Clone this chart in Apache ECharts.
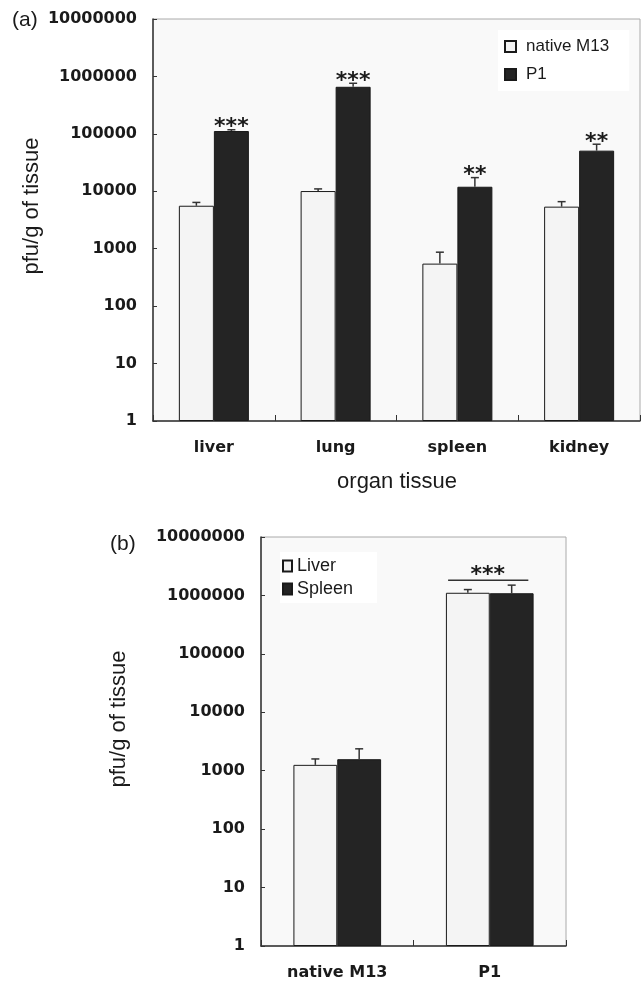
<!DOCTYPE html>
<html>
<head>
<meta charset="utf-8">
<script src="https://cdn.jsdelivr.net/npm/echarts@6/dist/echarts.min.js"></script>
<style>
  html, body { margin: 0; padding: 0; background: #fff; }
  #chart { width: 643px; height: 981px; }
</style>
</head>
<body>
<div id="chart"></div>
<script>
// panel (a): phage recovered per organ
const categoriesA = ['liver', 'lung', 'spleen', 'kidney'];
const nativeA = [5600, 10100, 550, 5400];
const nativeErrA = [6400, 11000, 870, 6600];
const p1A = [112000, 660000, 12000, 51000];
const p1ErrA = [118000, 760000, 17300, 66000];
const sigA = ['***', '***', '**', '**'];

// panel (b): liver vs spleen
const categoriesB = ['native M13', 'P1'];
const liverB = [1260, 1110000];
const liverErrB = [1590, 1260000];
const spleenB = [1575, 1090000];
const spleenErrB = [2370, 1500000];
const sigB = ['', '***'];

const TEXT = '#1a1a1a';
const DARK = '#242424';
const LIGHT = '#f4f4f4';
const CAT_GAP = 0.425;
const STAR_FONT = 'bold 22px "DejaVu Sans"';

const chart = echarts.init(document.getElementById('chart'));

const tickFont = { fontFamily: 'DejaVu Sans', fontWeight: 'bold', fontSize: 16, color: TEXT };

const logAxis = (gridIndex) => ({
  type: 'log',
  gridIndex,
  min: 1,
  max: 10000000,
  logBase: 10,
  splitNumber: 7,
  axisLine: { show: true, lineStyle: { color: '#333', width: 1.5 } },
  axisTick: { show: true, inside: true, length: 4, lineStyle: { color: '#333' } },
  axisLabel: { ...tickFont, margin: 16, formatter: (v) => String(Math.round(v)) },
  splitLine: { show: false },
  minorTick: { show: false }
});

const catAxis = (gridIndex, data) => ({
  type: 'category',
  gridIndex,
  data,
  axisLine: { show: true, lineStyle: { color: '#333', width: 1.5 } },
  axisTick: { show: true, inside: true, length: 6, lineStyle: { color: '#333' } },
  axisLabel: { ...tickFont, margin: 19 },
  splitLine: { show: false }
});

// error bar (upper only), plus optional significance stars
const errSeries = (xi, means, errs, side, stars) => ({
  type: 'custom',
  xAxisIndex: xi,
  yAxisIndex: xi,
  z: 5,
  data: means.map((m, i) => [i, m, errs[i], stars ? stars[i] : '']),
  renderItem: (params, api) => {
    const idx = api.value(0);
    const base = api.coord([idx, api.value(1)]);
    const top = api.coord([idx, api.value(2)]);
    const band = api.size([1, 1])[0];
    const barW = band * (1 - CAT_GAP) / 2;
    const x = base[0] + side * barW / 2;
    const children = [
      { type: 'line', shape: { x1: x, y1: base[1], x2: x, y2: top[1] }, style: { stroke: '#333', lineWidth: 1.5 } },
      { type: 'line', shape: { x1: x - 4, y1: top[1], x2: x + 4, y2: top[1] }, style: { stroke: '#333', lineWidth: 1.5 } }
    ];
    const s = api.value(3);
    if (s) {
      children.push({
        type: 'text',
        x: x,
        y: top[1] - 2,
        style: { text: s, fill: TEXT, font: STAR_FONT, align: 'center', verticalAlign: 'middle' }
      });
    }
    return { type: 'group', children };
  }
});

// bracket spanning both bars of a category in panel (b)
const bracketSeries = {
  type: 'custom',
  xAxisIndex: 1,
  yAxisIndex: 1,
  z: 5,
  data: sigB.map((s, i) => [i, Math.max(liverErrB[i], spleenErrB[i]), s]),
  renderItem: (params, api) => {
    const s = api.value(2);
    if (!s) return null;
    const p = api.coord([api.value(0), api.value(1)]);
    const band = api.size([1, 1])[0];
    const barW = band * (1 - CAT_GAP) / 2;
    const y = p[1] - 5;
    return {
      type: 'group',
      children: [
        { type: 'line', shape: { x1: p[0] - barW * 0.95, y1: y, x2: p[0] + barW * 0.88, y2: y }, style: { stroke: '#333', lineWidth: 1.5 } },
        { type: 'text', x: p[0] - 2, y: y - 5, style: { text: s, fill: TEXT, font: STAR_FONT, align: 'center', verticalAlign: 'middle' } }
      ]
    };
  }
};

const barStyle = (fill) => ({ color: fill, borderColor: '#1a1a1a', borderWidth: 1 });

chart.setOption({
  animation: false,
  backgroundColor: '#fff',
  grid: [
    { left: 153, right: 3, top: 19, bottom: 560, show: true, backgroundColor: '#f9f9f9', borderColor: '#aaa', borderWidth: 1 },
    { left: 261, right: 77, top: 537, bottom: 35, show: true, backgroundColor: '#f9f9f9', borderColor: '#aaa', borderWidth: 1 }
  ],
  xAxis: [catAxis(0, categoriesA), catAxis(1, categoriesB)],
  yAxis: [logAxis(0), logAxis(1)],
  legend: [
    {
      data: ['native M13', 'P1'],
      orient: 'vertical',
      left: 498,
      top: 30,
      padding: [8, 20, 8, 6],
      backgroundColor: '#fff',
      itemWidth: 11,
      itemHeight: 11,
      itemGap: 11,
      icon: 'rect',
      textStyle: { fontFamily: 'Liberation Sans', fontSize: 17, lineHeight: 17, color: TEXT, padding: [0, 0, 0, 5] }
    },
    {
      data: ['Liver', 'Spleen'],
      orient: 'vertical',
      left: 280,
      top: 552,
      padding: [5, 24, 5, 2],
      backgroundColor: '#fff',
      itemWidth: 9,
      itemHeight: 11,
      itemGap: 5,
      icon: 'rect',
      textStyle: { fontFamily: 'Liberation Sans', fontSize: 18, lineHeight: 18, color: TEXT }
    }
  ],
  series: [
    { name: 'native M13', type: 'bar', xAxisIndex: 0, yAxisIndex: 0, data: nativeA, barGap: '0%', barCategoryGap: '42.5%', itemStyle: barStyle(LIGHT) },
    { name: 'P1', type: 'bar', xAxisIndex: 0, yAxisIndex: 0, data: p1A, barGap: '0%', barCategoryGap: '42.5%', itemStyle: barStyle(DARK) },
    { name: 'Liver', type: 'bar', xAxisIndex: 1, yAxisIndex: 1, data: liverB, barGap: '0%', barCategoryGap: '42.5%', itemStyle: barStyle(LIGHT) },
    { name: 'Spleen', type: 'bar', xAxisIndex: 1, yAxisIndex: 1, data: spleenB, barGap: '0%', barCategoryGap: '42.5%', itemStyle: barStyle(DARK) },
    errSeries(0, nativeA, nativeErrA, -1),
    errSeries(0, p1A, p1ErrA, 1, sigA),
    errSeries(1, liverB, liverErrB, -1),
    errSeries(1, spleenB, spleenErrB, 1),
    bracketSeries
  ],
  graphic: [
    { type: 'text', left: 12, top: 10, style: { text: '(a)', font: '21px "Liberation Sans"', fill: TEXT } },
    { type: 'text', left: 110, top: 534, style: { text: '(b)', font: '21px "Liberation Sans"', fill: TEXT } },
    { type: 'text', x: 32, y: 206, rotation: Math.PI / 2, style: { text: 'pfu/g of tissue', font: '22px "Liberation Sans"', fill: TEXT, align: 'center', verticalAlign: 'middle' } },
    { type: 'text', x: 119, y: 719, rotation: Math.PI / 2, style: { text: 'pfu/g of tissue', font: '22px "Liberation Sans"', fill: TEXT, align: 'center', verticalAlign: 'middle' } },
    { type: 'text', x: 397, y: 482, style: { text: 'organ tissue', font: '22px "Liberation Sans"', fill: TEXT, align: 'center', verticalAlign: 'middle' } }
  ]
});
</script>
</body>
</html>
